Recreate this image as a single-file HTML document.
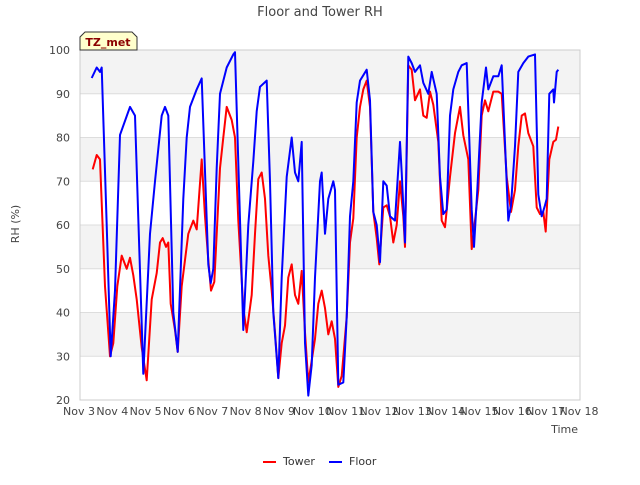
<!DOCTYPE html>
<html><head><meta charset="utf-8"><style>
body{margin:0;background:#fff;font-family:"Liberation Sans","DejaVu Sans",sans-serif;}
svg text{font-family:"DejaVu Sans","Liberation Sans",sans-serif;}
</style></head><body>
<svg id="chart" width="640" height="480" viewBox="0 0 640 480" xmlns="http://www.w3.org/2000/svg">
<text x="320" y="16" text-anchor="middle" font-size="13" fill="#444">Floor and Tower RH</text>
<g id="plot"></g>
<text x="19" y="224" transform="rotate(-90 19 224)" text-anchor="middle" font-size="11" fill="#444">RH (%)</text>
<text x="578" y="433" text-anchor="end" font-size="11" fill="#444">Time</text>
<g>
<path d="M80,50 L80,37 L85,32 L132,32 L137,37 L137,50 Z" fill="#ffffcc" stroke="#333" stroke-width="1"/>
<text x="108" y="46" text-anchor="middle" font-size="11" font-weight="bold" fill="#8b0000">TZ_met</text>
</g>
<g>
<g><line x1="263" y1="462" x2="276" y2="462" stroke="#ff0000" stroke-width="2"/><text x="283" y="465" font-size="11" fill="#333">Tower</text></g>
<g><line x1="329" y1="462" x2="342" y2="462" stroke="#0000ff" stroke-width="2"/><text x="349" y="465" font-size="11" fill="#333">Floor</text></g>
</g>
</svg>
<script>
const xTickLabels=["Nov 3","Nov 4","Nov 5","Nov 6","Nov 7","Nov 8","Nov 9","Nov 10","Nov 11","Nov 12","Nov 13","Nov 14","Nov 15","Nov 16","Nov 17","Nov 18"];
const yTicks=[20,30,40,50,60,70,80,90,100];
const floorT=[0.35,0.5,0.6,0.65,0.8,0.92,1.05,1.2,1.5,1.65,1.9,2.1,2.25,2.45,2.55,2.65,2.8,2.93,3.1,3.2,3.3,3.5,3.65,3.85,3.92,4.0,4.1,4.2,4.4,4.6,4.65,4.9,5.05,5.2,5.3,5.4,5.6,5.7,5.8,5.95,6.05,6.2,6.35,6.45,6.55,6.65,6.75,6.85,6.95,7.05,7.2,7.25,7.35,7.45,7.6,7.65,7.75,7.9,8.0,8.1,8.2,8.3,8.4,8.6,8.7,8.8,8.9,9.0,9.1,9.2,9.3,9.45,9.6,9.65,9.75,9.85,9.95,10.05,10.2,10.3,10.45,10.55,10.7,10.8,10.9,11.0,11.1,11.2,11.35,11.45,11.6,11.75,11.82,11.92,12.05,12.18,12.25,12.4,12.55,12.65,12.85,12.93,13.05,13.15,13.3,13.45,13.65,13.75,13.85,13.95,14.0,14.08,14.2,14.22,14.3,14.35];
const floorV=[93.6,96,95,96,60,30,45,80.6,87,85,26,58,70,85,87,85,40,31,66,80,87,91,93.5,51,46.7,50,73,90,96,99,99.5,36,60,74.5,86,91.6,93,70,40,25,48,71,80,72,70,79,33,21,28,48,70,72,58,66,70,68,23.5,24,39,62,70,88,93,95.5,88.5,63,60,51.5,70,69,62,61,79,72,56,98.5,97,95,96.5,92.5,90,95,90,71,62.5,63.5,85,91,95,96.5,97,63.5,55,68,88,96,91,94,94,96.5,61,64.5,78,95,97,98.5,99,67,62,64.5,66,90,91,88,95,95.5];
const towerT=[0.38,0.5,0.6,0.75,0.9,1.0,1.12,1.25,1.4,1.5,1.6,1.7,1.85,2.0,2.15,2.3,2.4,2.48,2.58,2.65,2.72,2.85,2.93,3.05,3.15,3.25,3.4,3.5,3.65,3.75,3.85,3.93,4.03,4.2,4.3,4.4,4.55,4.65,4.75,4.9,5.0,5.15,5.25,5.35,5.45,5.55,5.65,5.75,5.85,5.95,6.05,6.15,6.25,6.35,6.45,6.55,6.65,6.75,6.85,6.95,7.05,7.15,7.25,7.35,7.45,7.55,7.65,7.75,7.85,8.0,8.1,8.2,8.3,8.4,8.5,8.6,8.7,8.8,8.9,8.98,9.1,9.2,9.3,9.4,9.5,9.6,9.7,9.75,9.85,9.95,10.05,10.2,10.3,10.4,10.5,10.6,10.75,10.85,10.95,11.1,11.25,11.4,11.5,11.65,11.75,11.85,11.95,12.05,12.15,12.25,12.4,12.55,12.65,12.8,12.93,13.05,13.15,13.25,13.35,13.45,13.6,13.7,13.8,13.9,13.97,14.08,14.2,14.28,14.35];
const towerV=[72.7,76,75,46,30,33,46,53,50,52.5,48.5,43,32,24.5,43,49,56,57,55,56,42,36,31,46,52,58,61,59,75,62,52,45,47,73,80,87,84,80,61,41,35.5,44,58,70.5,72,66,53,45,35.5,25,33,37,48,51,44,42,49.5,35.5,24,29,34,42,45,41,35,38,34,23,25.5,39,56,61.5,80,87,91,93,87,63,57,51,64,64.5,62,56,60,70,62,55,96.5,95.5,88.5,91,85,84.5,90.5,87.5,79,61,59.5,71,81,87,80.5,75,54.5,61,68,85,88.5,86,90.5,90.5,90,71,63,68,78,85,85.5,81,78,64,62.5,63,58.5,75,79,79.5,82.5];
const X0=80,X1=580,Y0=400,Y1=50;
const xs=t=>X0+t*(X1-X0)/15;
const ys=v=>Y0-(v-20)*(Y0-Y1)/80;
const NS="http://www.w3.org/2000/svg";
const plot=document.getElementById('plot');
function mk(tag,attrs){const e=document.createElementNS(NS,tag);for(const k in attrs)e.setAttribute(k,attrs[k]);return e;}
for(let i=0;i<8;i++){if(i%2===0){const r=mk('rect',{x:X0,y:ys(yTicks[8-i]),width:X1-X0,height:ys(yTicks[7-i])-ys(yTicks[8-i]),fill:'#f3f3f3'});plot.appendChild(r);}}
yTicks.forEach(v=>{const l=mk('line',{x1:X0,x2:X1,y1:ys(v),y2:ys(v),stroke:'#dddddd','stroke-width':1});plot.appendChild(l);
const t=mk('text',{x:X0-10,y:ys(v)+4,'text-anchor':'end','font-size':11,fill:'#444'});t.textContent=v;plot.appendChild(t);});
const border=mk('rect',{x:X0,y:Y1,width:X1-X0,height:Y0-Y1,fill:'none',stroke:'#cccccc'});plot.appendChild(border);
xTickLabels.forEach((s,i)=>{const t=mk('text',{x:xs(i)-1,y:415,'text-anchor':'middle','font-size':11,fill:'#444'});t.textContent=s;plot.appendChild(t);});
function line(T,V,color,name){const d=T.map((t,i)=>(i?'L':'M')+xs(t).toFixed(1)+','+ys(V[i]).toFixed(1)).join(' ');const p=mk('path',{d:d,fill:'none',stroke:color,'stroke-width':2,'stroke-linejoin':'round'});plot.appendChild(p);}
line(towerT,towerV,'#ff0000','tower-line');
line(floorT,floorV,'#0000ff','floor-line');
</script>
</body></html>
